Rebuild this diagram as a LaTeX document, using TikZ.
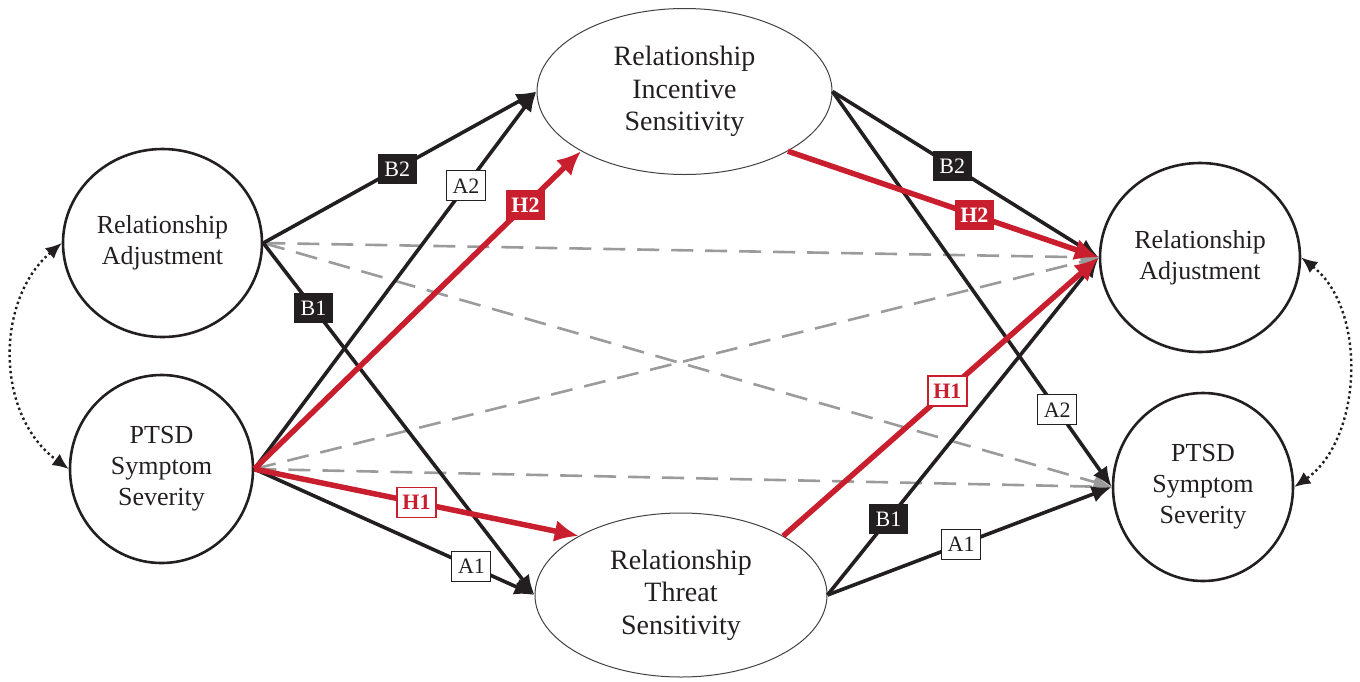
\documentclass[tikz,border=0pt]{standalone}
\usepackage{fontspec}
\setmainfont{Liberation Serif}
\usetikzlibrary{arrows.meta,shapes.geometric}
\definecolor{hred}{RGB}{200,30,45}
\definecolor{dgray}{RGB}{155,155,155}
\definecolor{txt}{RGB}{35,31,32}
\begin{document}
\begin{tikzpicture}[x=1pt,y=-1pt,
  var/.style={ellipse, draw=txt, line width=2.6pt, inner sep=0pt, align=center, text=txt,
    font=\fontsize{26}{31}\selectfont},
  lat/.style={ellipse, draw=txt!85, line width=1pt, inner sep=0pt, align=center, text=txt,
    font=\fontsize{28}{32.5}\selectfont},
  blk/.style={txt, line width=3.6pt, -{Latex[length=20pt,width=17pt]}},
  hyp/.style={hred, line width=5.5pt, -{Latex[length=24pt,width=22pt]}},
  dsh/.style={dgray, line width=2.6pt, dash pattern=on 22pt off 12pt, -{Latex[length=18pt,width=15pt]}},
  cov/.style={txt, line width=2.4pt, dash pattern=on 2.4pt off 3pt,
    {Latex[length=16pt,width=14pt]}-{Latex[length=16pt,width=14pt]}},
  lbl/.style={font=\fontsize{22}{22}\selectfont, minimum width=39pt, minimum height=30pt, inner sep=1pt},
  lb/.style={lbl, fill=txt, text=white},
  la/.style={lbl, fill=white, draw=txt, line width=1pt, text=txt},
  lhtwo/.style={lbl, fill=hred, text=white, font=\fontsize{22}{22}\selectfont\bfseries},
  lhone/.style={lbl, fill=white, draw=hred, line width=1.5pt, text=hred, font=\fontsize{22}{22}\selectfont\bfseries},
]
\useasboundingbox (0,0) rectangle (1360,681);

% variables
\node[var, minimum width=199pt, minimum height=188pt] (lra) at (162.5,243) {Relationship\\Adjustment};
\node[var, minimum width=183pt, minimum height=188pt] (lps) at (161.5,469) {PTSD\\Symptom\\Severity};
\node[var, minimum width=200pt, minimum height=189pt] (rra) at (1200,257.5) {Relationship\\Adjustment};
\node[var, minimum width=180pt, minimum height=188pt] (rps) at (1203,487) {PTSD\\Symptom\\Severity};
\node[lat, minimum width=295pt, minimum height=166pt] (inc) at (684.5,91.5) {Relationship\\Incentive\\Sensitivity};
\node[lat, minimum width=292pt, minimum height=164pt] (thr) at (681,595) {Relationship\\Threat\\Sensitivity};

% covariances
\draw[cov] (lra.west) .. controls (-5,300) and (-5,415) .. (lps.west);
\draw[cov] (rra.east) .. controls (1368,310) and (1362,440) .. (rps.east);

% dashed direct paths
\draw[dsh] (lra.east) -- (rra.west);
\draw[dsh] (lra.east) -- (rps.west);
\draw[dsh] (lps.east) -- (rra.west);
\draw[dsh] (lps.east) -- (rps.west);

% black paths
\draw[blk] (lra.east) -- (inc.west);
\draw[blk] (lra.east) -- (thr.west);
\draw[blk] (lps.east) -- (inc.west);
\draw[blk] (lps.east) -- (thr.west);
\draw[blk] (inc.east) -- (rra.west);
\draw[blk] (inc.east) -- (rps.west);
\draw[blk] (thr.east) -- (rra.west);
\draw[blk] (thr.east) -- (rps.west);

% hypothesised paths
\draw[hyp] (lps.east) -- (inc.210);
\draw[hyp] (lps.east) -- (thr.150);
\draw[hyp] (inc.330) -- (rra.west);
\draw[hyp] (thr.30) -- (rra.west);

% labels
\path (lra.east) -- node[lb, pos=0.49] (lb2) {B2} (inc.west);
\path (lra.east) -- node[lb, pos=0.185] (lb1) {B1} (thr.west);
\path (lps.east) -- node[la, pos=0.75] (la2) {A2} (inc.west);
\path (lps.east) -- node[la, pos=0.775] (la1) {A1} (thr.west);
\path (lps.east) -- node[lhtwo, pos=0.83] (lh2) {H2} (inc.210);
\path (lps.east) -- node[lhone, pos=0.5] (lh1) {H1} (thr.150);
\path (inc.east) -- node[lb, pos=0.45] (rb2) {B2} (rra.west);
\path (inc.east) -- node[la, pos=0.805] (ra2) {A2} (rps.west);
\path (thr.east) -- node[lb, pos=0.225] (rb1) {B1} (rra.west);
\path (thr.east) -- node[la, pos=0.47] (ra1) {A1} (rps.west);
\path (inc.330) -- node[lhtwo, pos=0.6] (rh2) {H2} (rra.west);
\path (thr.30) -- node[lhone, pos=0.52] (rh1) {H1} (rra.west);
\end{tikzpicture}
\end{document}
